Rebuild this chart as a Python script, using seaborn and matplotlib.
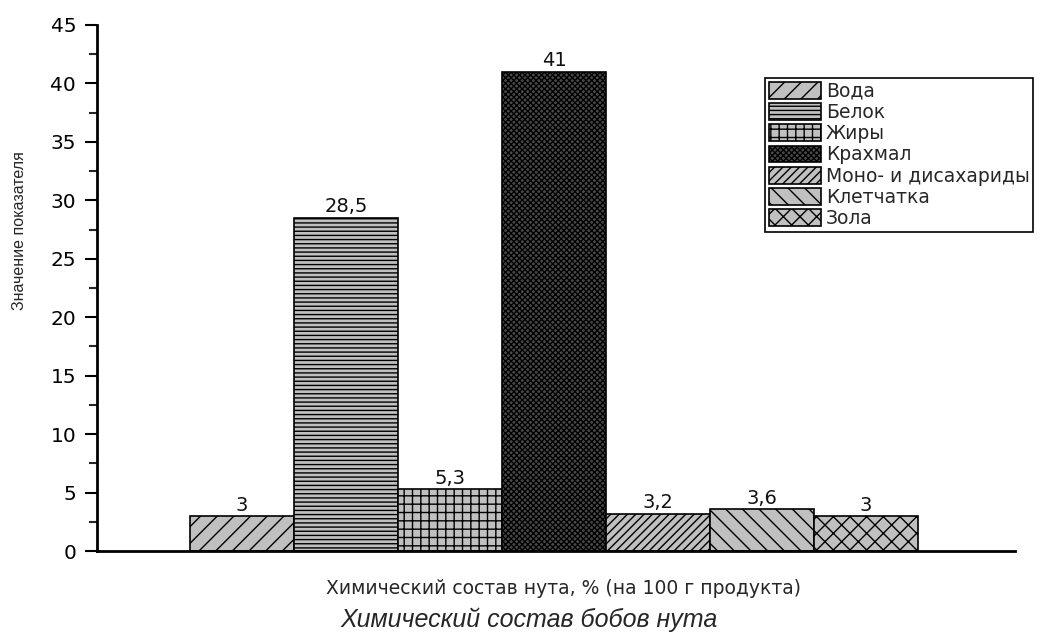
import matplotlib
matplotlib.use("Agg")
import matplotlib.pyplot as plt
from matplotlib.ticker import MultipleLocator
import seaborn as sns
import pandas as pd

# Chickpea composition, g per 100 g of product
components = ["Вода", "Белок", "Жиры", "Крахмал", "Моно- и дисахариды", "Клетчатка", "Зола"]
values = [3.0, 28.5, 5.3, 41.0, 3.2, 3.6, 3.0]
value_labels = ["3", "28,5", "5,3", "41", "3,2", "3,6", "3"]
y_ticks = [0, 5, 10, 15, 20, 25, 30, 35, 40, 45]

hatches = ["//", "----", "++", "xxxxxx", "////", "\\\\", "xx"]
faces = ["#c0c0c0", "#c0c0c0", "#c0c0c0", "#4a4a4a", "#c0c0c0", "#c0c0c0", "#c0c0c0"]

sns.set_theme(style="ticks")
plt.rcParams["font.family"] = ["DejaVu Sans"]
plt.rcParams["hatch.linewidth"] = 1.0

df = pd.DataFrame({"component": components, "value": values})

fig = plt.figure(figsize=(10.62, 6.39), dpi=100)
ax = fig.add_axes([0.0913, 0.1377, 0.8644, 0.8232])

sns.barplot(data=df, x="component", y="value", hue="component",
            order=components, hue_order=components, width=1.0,
            palette=faces, edgecolor="black", linewidth=1.2,
            saturation=1, legend=False, ax=ax)

handles = []
for cont, h, fc in zip(ax.containers, hatches, faces):
    for p in cont:
        p.set_hatch(h)
        p.set_facecolor(fc)
        p.set_edgecolor("black")
        handles.append(p)

for cont, lab in zip(ax.containers, value_labels):
    ax.bar_label(cont, labels=[lab], padding=1, fontsize=14, color="#111111")

ax.set_xlim(-1.394, 7.43)
ax.set_ylim(0, 45)
ax.set_yticks(y_ticks)
ax.yaxis.set_minor_locator(MultipleLocator(2.5))
ax.set_xticks([])
ax.tick_params(axis="y", which="major", length=9, width=1.5, labelsize=14.5,
               direction="out", pad=6, colors="black")
ax.tick_params(axis="y", which="minor", length=5.5, width=1.5, direction="out")

for s in ["top", "right"]:
    ax.spines[s].set_visible(False)
for s in ["left", "bottom"]:
    ax.spines[s].set_linewidth(2)
    ax.spines[s].set_color("black")

ax.set_xlabel("")
ax.set_ylabel("")
fig.text(20 / 1062, 1 - 231 / 639, "Значение показателя", rotation=90,
         ha="center", va="center", fontsize=11.5,
         family=["Liberation Sans Narrow", "Liberation Sans"])

fig.text(0.531, 1 - 588 / 639, "Химический состав нута, % (на 100 г продукта)",
         ha="center", va="center", fontsize=13.5)
fig.text(0.498, 1 - 620 / 639, "Химический состав бобов нута",
         ha="center", va="center", fontsize=18, style="italic",
         family=["Liberation Sans Narrow", "Liberation Sans"])

leg = fig.legend(handles, components, loc="upper left",
                 bbox_to_anchor=(765 / 1062, 1 - 78 / 639),
                 fontsize=13.5, frameon=True, fancybox=False, framealpha=1,
                 edgecolor="black", handlelength=2.8, handleheight=1.0,
                 labelspacing=0.12, handletextpad=0.25, borderpad=0.2,
                 borderaxespad=0)
leg.get_frame().set_linewidth(1.2)

fig.savefig("out.png", dpi=100)
